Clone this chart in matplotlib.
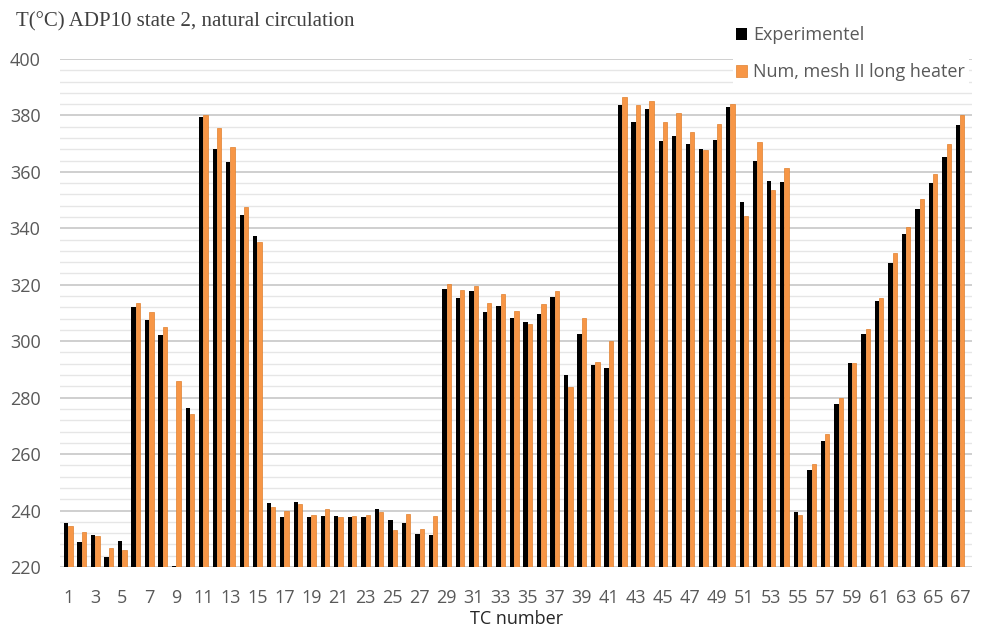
import numpy as np
import matplotlib.pyplot as plt
from matplotlib.ticker import MultipleLocator

# TC number 1..67
tc = np.arange(1, 68)

experimentel = [
    235.7, 228.7, 231.3, 223.7, 229.2, 312.0, 307.6, 302.2, 220.3, 276.3,
    379.6, 368.1, 363.5, 344.8, 337.1, 242.7, 237.6, 243.0, 237.8, 238.2,
    238.0, 237.6, 237.8, 240.6, 236.5, 235.5, 231.8, 231.2, 318.4, 315.4,
    317.8, 310.4, 312.6, 308.2, 306.8, 309.7, 315.7, 288.0, 302.7, 291.5,
    290.4, 383.7, 377.7, 382.4, 371.0, 372.7, 370.0, 368.0, 371.2, 382.9,
    349.3, 363.9, 356.8, 356.5, 239.4, 254.4, 264.6, 277.9, 292.2, 302.6,
    314.3, 327.6, 337.9, 347.0, 356.2, 365.4, 376.6,
]
num_mesh2 = [
    234.4, 232.3, 231.1, 226.9, 225.9, 313.7, 310.2, 305.2, 285.9, 274.2,
    380.2, 375.4, 368.7, 347.5, 335.2, 241.1, 239.7, 242.4, 238.3, 240.6,
    237.7, 238.0, 238.4, 239.4, 233.1, 238.7, 233.6, 238.0, 320.3, 318.3,
    319.7, 313.6, 316.6, 310.8, 306.1, 313.1, 317.8, 283.7, 308.1, 292.5,
    300.1, 386.4, 383.7, 385.1, 377.5, 380.9, 374.0, 367.8, 376.8, 384.0,
    344.4, 370.7, 353.6, 361.5, 238.4, 256.6, 267.2, 280.0, 292.2, 304.3,
    315.3, 331.2, 340.4, 350.3, 359.3, 369.9, 380.0,
]

base = 220
w = 0.32

fig = plt.figure(figsize=(9.83, 6.27), dpi=100)
ax = fig.add_axes([0.061, 0.0957, 0.928, 0.8103])

ax.bar(tc - w / 2, np.array(experimentel) - base, w, bottom=base,
       color='black', label='Experimentel', zorder=3)
ax.bar(tc + w / 2, np.array(num_mesh2) - base, w, bottom=base,
       color='#F79646', edgecolor='#E0802E', linewidth=0.5,
       label='Num, mesh II long heater', zorder=3)

ax.set_ylim(220, 400)
ax.set_xlim(0.39, 67.89)
ax.yaxis.set_major_locator(MultipleLocator(20))
ax.yaxis.set_minor_locator(MultipleLocator(4))
ax.set_xticks(tc[::2])
ax.grid(axis='y', which='major', color='#CFCFCF', linewidth=1.4, zorder=0)
ax.grid(axis='y', which='minor', color='#E6E6E6', linewidth=1.0, zorder=0)
ax.set_axisbelow(True)
for s in ax.spines.values():
    s.set_visible(False)
ax.tick_params(axis='both', which='both', length=0, labelsize=13,
               labelcolor='#595959')
ax.tick_params(axis='y', pad=14)
ax.tick_params(axis='x', pad=16)
for lbl in ax.get_xticklabels() + ax.get_yticklabels():
    lbl.set_family('Open Sans')

ax.set_xlabel('TC number', fontsize=13, family='Open Sans', color='#262626',
              labelpad=2)

fig.text(0.016, 0.966, 'T(\u00b0C) ADP10 state 2, natural circulation',
         family='Liberation Serif', fontsize=15, color='#404040',
         va='center', ha='left')

leg = fig.legend(loc='upper left', bbox_to_anchor=(0.736, 0.978),
                 frameon=True, fancybox=False, edgecolor='none',
                 facecolor='white', framealpha=1,
                 prop={'family': 'Open Sans', 'size': 13},
                 handlelength=0.6, handleheight=0.6, handletextpad=0.35,
                 labelspacing=1.05, borderpad=0.2)
for t in leg.get_texts():
    t.set_color('#595959')

fig.savefig('out.png', dpi=100)
